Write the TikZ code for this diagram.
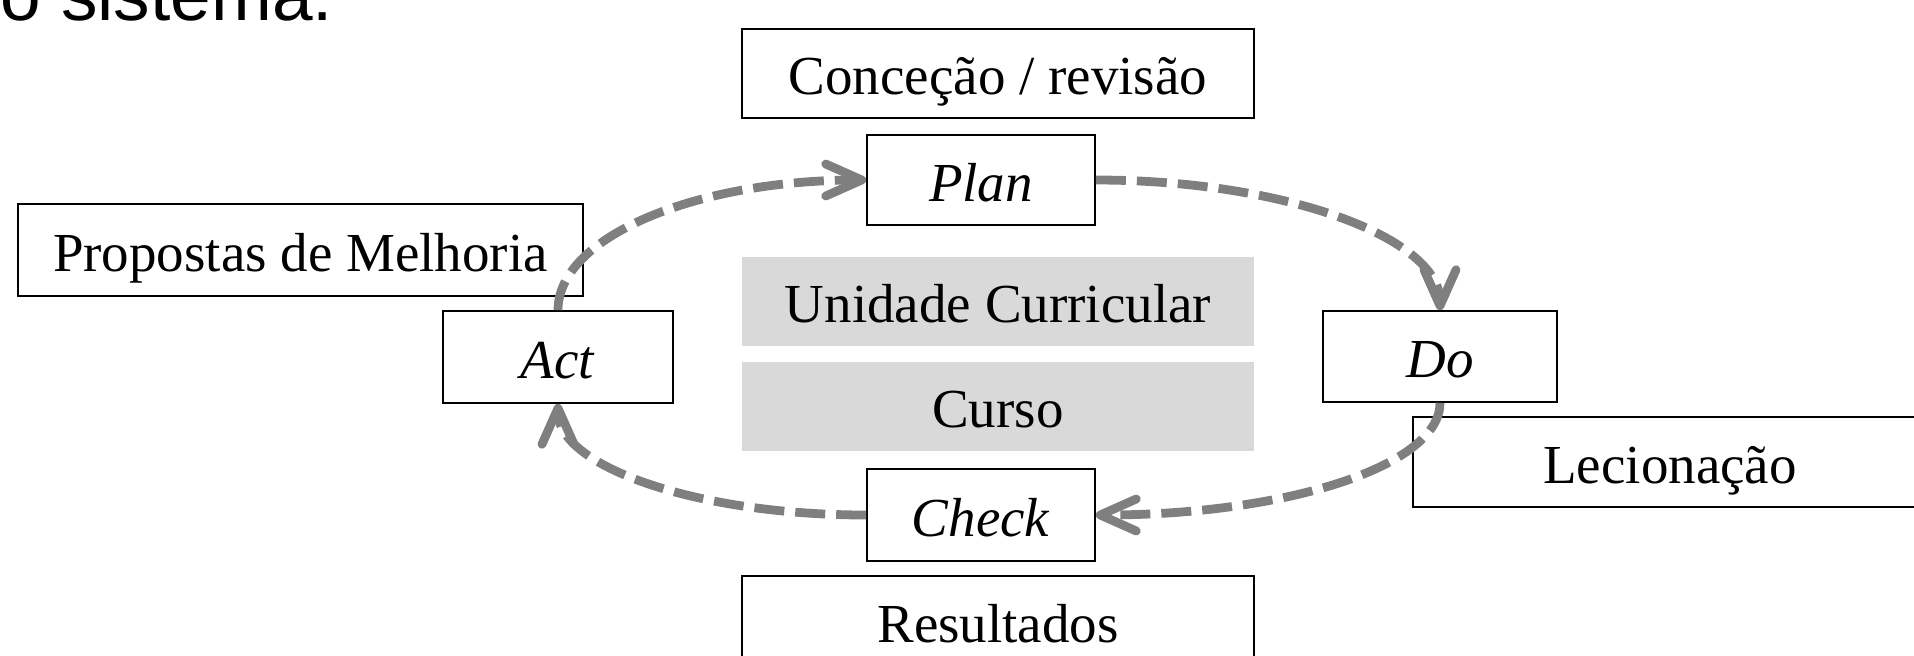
\documentclass[tikz,border=0pt]{standalone}
\usepackage{fontspec}
\setmainfont{Liberation Serif}
\newfontfamily\titlefont{Liberation Sans}
\usetikzlibrary{arrows.meta}
\definecolor{cyc}{HTML}{7F7F7F}
\definecolor{panel}{HTML}{D9D9D9}
\begin{document}
\begin{tikzpicture}[x=0.5pt,y=0.5pt,
  box/.style={draw=black,line width=0.85pt,fill=white,inner sep=0pt,
    text height=21pt,text depth=0pt,font=\fontsize{27.5}{33}\selectfont},
  greybox/.style={fill=panel,inner sep=0pt,
    text height=21pt,text depth=0pt,font=\fontsize{27.5}{33}\selectfont},
  cycarrow/.style={draw=cyc,line width=4.4pt,dash pattern=on 15pt off 5.5pt,
    -{Straight Barb[length=18pt,width=16pt,round]}}]
\useasboundingbox (0,0) rectangle (1914,-655);
\node[anchor=base west,inner sep=0pt,font=\titlefont\fontsize{36.5}{44}\selectfont] (title) at (0,-20) {o sistema.};
\node[box,minimum width=256pt,minimum height=44.5pt] (conc) at (998,-73.5) {Conceção / revisão};
\node[box,minimum width=114pt,minimum height=45pt] (plan) at (981,-180) {\textit{Plan}};
\node[box,minimum width=282.5pt,minimum height=46pt] (prop) at (300.5,-250) {Propostas de Melhoria};
\node[box,minimum width=115pt,minimum height=46pt] (act) at (558,-357) {\textit{Act}};
\node[greybox,minimum width=256pt,minimum height=44.5pt] (unid) at (998,-301.5) {Unidade Curricular};
\node[greybox,minimum width=256pt,minimum height=44.5pt] (curso) at (998,-406.5) {Curso};
\node[box,minimum width=117pt,minimum height=45.5pt] (do) at (1440,-356.5) {\textit{Do}};
\node[box,minimum width=257pt,minimum height=45pt] (lec) at (1670,-462) {Lecionação};
\node[box,minimum width=114pt,minimum height=46pt] (check) at (981,-515) {\textit{Check}};
\node[box,minimum width=256pt,minimum height=45pt] (res) at (998,-621) {Resultados};
\draw[cycarrow] (act.north) .. controls +(0,73) and +(-171,0) .. (plan.west);
\draw[cycarrow] (plan.east) .. controls +(190,0) and +(0,72) .. (do.north);
\draw[cycarrow] (do.south) .. controls +(0,-63) and +(190,0) .. (check.east);
\draw[cycarrow] (check.west) .. controls +(-171,0) and +(0,-62) .. (act.south);
\end{tikzpicture}
\end{document}
